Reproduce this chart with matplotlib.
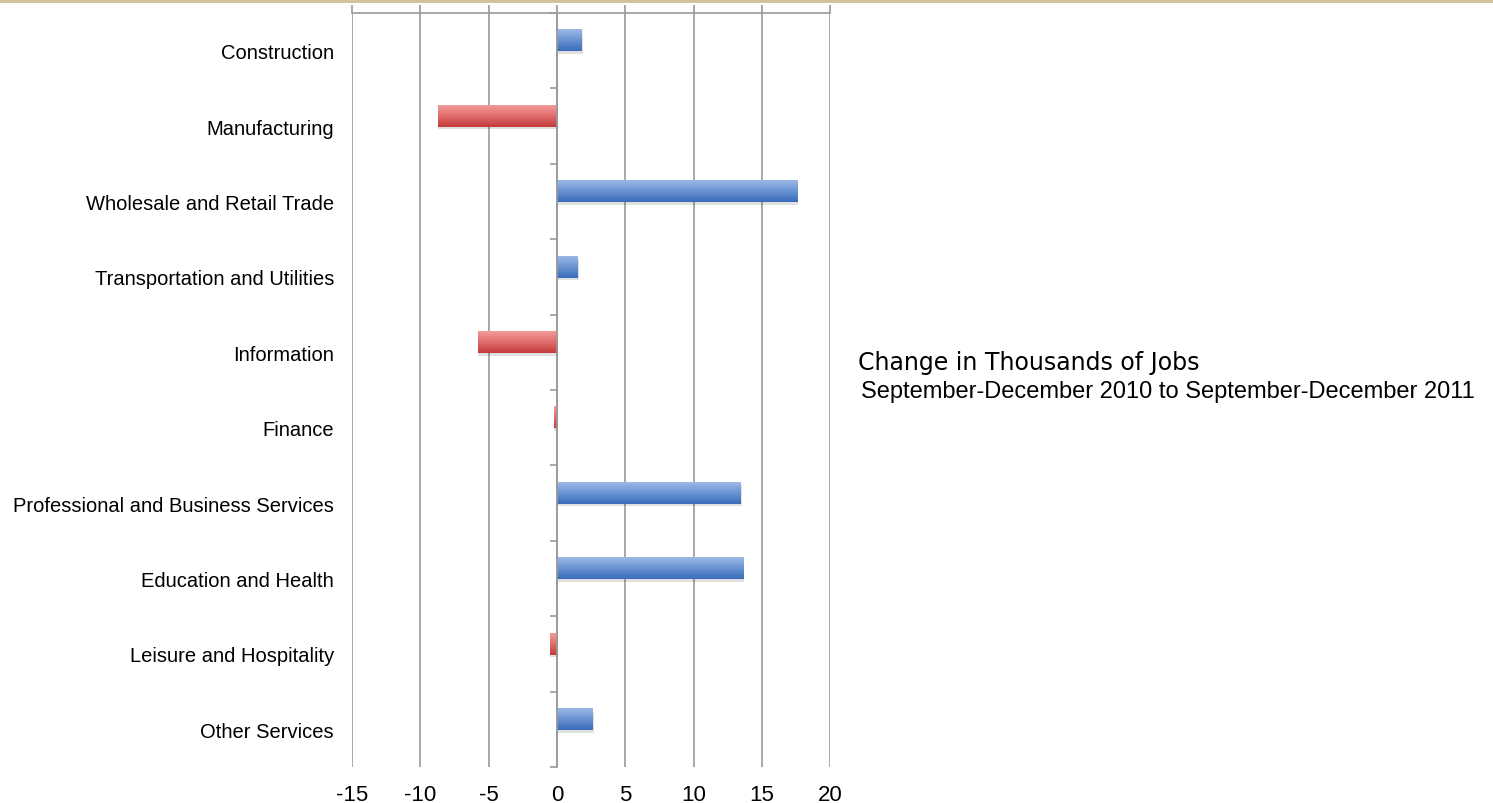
import numpy as np
import matplotlib.pyplot as plt
from matplotlib.colors import LinearSegmentedColormap

sectors = ["Construction", "Manufacturing", "Wholesale and Retail Trade",
           "Transportation and Utilities", "Information", "Finance",
           "Professional and Business Services", "Education and Health",
           "Leisure and Hospitality", "Other Services"]
change = [1.8, -8.7, 17.6, 1.5, -5.8, -0.2, 13.45, 13.65, -0.5, 2.6]
xticks = [-15, -10, -5, 0, 5, 10, 15, 20]

blue_cm = LinearSegmentedColormap.from_list("b", ["#3a6cba", "#6a93d2", "#9cb9e5"])
red_cm = LinearSegmentedColormap.from_list("r", ["#c43c3c", "#e06c6c", "#f29a9a"])

fig = plt.figure(figsize=(14.93, 8.04), dpi=100)
ax = fig.add_axes([0.2358, 0.0448, 0.3202, 0.9378])

n = len(sectors)
ypos = np.arange(n)[::-1]
h = 0.28
off = 0.13
grad = np.linspace(0, 1, 64).reshape(-1, 1)
for y, v in zip(ypos, change):
    x0, x1 = min(0, v), max(0, v)
    yc = y + off
    # soft shadow under the bar
    ax.fill_between([x0, x1 + 0.08], yc - h / 2 - 0.035, yc + h / 2 - 0.035,
                    color="#000000", alpha=0.12, lw=0, zorder=2)
    ax.imshow(grad, extent=[x0, x1, yc - h / 2, yc + h / 2], origin="lower",
              cmap=blue_cm if v > 0 else red_cm, aspect="auto", zorder=3)

ax.set_xlim(-15, 20)
ax.set_ylim(-0.5, n - 0.5)

ax.set_xticks(xticks)
ax.set_xticklabels([str(t) for t in xticks], fontsize=16, family="Liberation Sans")
ax.tick_params(axis="x", length=0, pad=12)
ax.grid(axis="x", color="#9a9a9a", lw=1.2, zorder=1)

ax.set_yticks(ypos)
ax.set_yticklabels(sectors, fontsize=14.5, family="Liberation Sans")
ax.tick_params(axis="y", length=0, pad=13)

for s in ["left", "right", "bottom"]:
    ax.spines[s].set_visible(False)
ax.spines["top"].set_color("#9a9a9a")
ax.spines["top"].set_linewidth(1.2)

# tick marks above the top line
top = ax.secondary_xaxis("top")
top.set_xticks(xticks)
top.set_xticklabels([])
top.tick_params(length=6, color="#9a9a9a", width=1.2)
top.spines["top"].set_visible(False)

# zero line with category separators
zero = ax.secondary_yaxis(15 / 35)
zero.set_yticks(np.arange(-0.5, n, 1.0))
zero.set_yticklabels([])
zero.tick_params(length=5, color="#9a9a9a", width=1.2)
zero.spines["left"].set_color("#9a9a9a")
zero.spines["left"].set_linewidth(1.2)
zero.set_zorder(4)

fig.text(858 / 1493, 1 - 363 / 804, "Change in Thousands of Jobs",
         fontsize=17, family="DejaVu Sans", va="center", ha="left")
fig.text(861 / 1493, 1 - 392 / 804,
         "September-December 2010 to September-December 2011",
         fontsize=17, family="Liberation Sans", va="center", ha="left")

# thin band along the top edge
fig.add_artist(plt.Rectangle((0, 1 - 4 / 804), 1, 4 / 804,
                             transform=fig.transFigure, color="#d3c3a0", lw=0))

fig.savefig("out.png", dpi=100)
